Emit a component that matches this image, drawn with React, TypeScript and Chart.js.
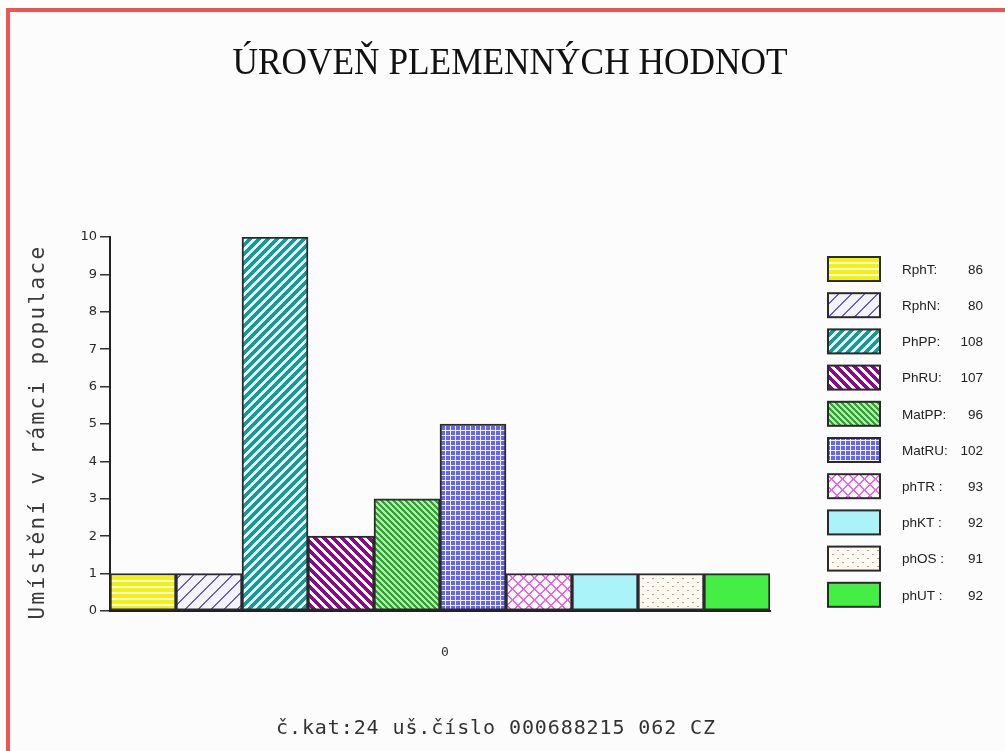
import React, { useEffect, useRef } from 'react';
import { Chart, registerables } from 'chart.js';

Chart.register(...registerables);

const categories = ['0'];
const seriesNames = ['RphT', 'RphN', 'PhPP', 'PhRU', 'MatPP', 'MatRU', 'phTR', 'phKT', 'phOS', 'phUT'];
const legendNames = ['RphT:', 'RphN:', 'PhPP:', 'PhRU:', 'MatPP:', 'MatRU:', 'phTR :', 'phKT :', 'phOS :', 'phUT :'];
const breedingValues = [86, 80, 108, 107, 96, 102, 93, 92, 91, 92];
const placements = [1, 1, 10, 2, 3, 5, 1, 1, 1, 1];
const yMin = 0;
const yMax = 10;
const yStep = 1;

const titleText = 'ÚROVEŇ PLEMENNÝCH HODNOT';
const yTitleText = 'Umístění v rámci populace';
const footerText = 'č.kat:24 uš.číslo 000688215 062 CZ';

function hex(c: string): [number, number, number] {
  const v = parseInt(c.slice(1), 16);
  return [(v >> 16) & 255, (v >> 8) & 255, v & 255];
}

// Build a pixel tile: test(x, y) -> true means foreground
function pixelTile(w: number, h: number, bg: string, fg: string, test: (x: number, y: number) => boolean) {
  const c = document.createElement('canvas');
  c.width = w;
  c.height = h;
  const g = c.getContext('2d')!;
  const img = g.createImageData(w, h);
  const b = hex(bg);
  const f = hex(fg);
  for (let y = 0; y < h; y++) {
    for (let x = 0; x < w; x++) {
      const col = test(x, y) ? f : b;
      const i = (y * w + x) * 4;
      img.data[i] = col[0];
      img.data[i + 1] = col[1];
      img.data[i + 2] = col[2];
      img.data[i + 3] = 255;
    }
  }
  g.putImageData(img, 0, 0);
  return c;
}

const mod = (a: number, p: number) => ((a % p) + p) % p;

function buildPatterns(ctx: CanvasRenderingContext2D): (CanvasPattern | string)[] {
  const tiles: (HTMLCanvasElement | string)[] = [
    pixelTile(6, 6, '#ffffff', '#f4f400', (_x, y) => y < 4),
    pixelTile(13, 13, '#f4f4ff', '#6a5fd8', (x, y) => mod(x + y, 13) < 2),
    pixelTile(9, 9, '#e2fafa', '#189a9a', (x, y) => mod(x + y, 9) < 5),
    pixelTile(9, 9, '#ffffff', '#8a0a8a', (x, y) => mod(x - y, 9) < 5),
    pixelTile(6, 6, '#b2ecb2', '#2aa82a', (x, y) => mod(x - y, 6) < 3),
    pixelTile(5, 5, '#6464f6', '#f4f4ff', (x, y) => x === 0 || y === 0),
    pixelTile(11, 11, '#ffffff', '#f45cf4', (x, y) => mod(x + y, 11) < 2 || mod(x - y, 11) < 2),
    '#a9f3f9',
    pixelTile(10, 8, '#fffaf3', '#d9995f', (x, y) => ((x === 2 || x === 3) && y === 2) || ((x === 7 || x === 8) && y === 6)),
    '#44ee44',
  ];
  return tiles.map((t) => (typeof t === 'string' ? t : (ctx.createPattern(t, 'repeat') as CanvasPattern)));
}

function spacedText(
  ctx: CanvasRenderingContext2D,
  text: string,
  x: number,
  y: number,
  targetW: number,
  font: string
) {
  ctx.font = font;
  const anyCtx = ctx as any;
  anyCtx.letterSpacing = '0px';
  const w = ctx.measureText(text).width;
  const n = Array.from(text).length;
  const sp = (targetW - w) / n;
  anyCtx.letterSpacing = sp.toFixed(2) + 'px';
  ctx.fillText(text, x, y);
  anyCtx.letterSpacing = '0px';
}

export default function App() {
  const ref = useRef<HTMLCanvasElement | null>(null);

  useEffect(() => {
    document.body.style.margin = '0';
    const canvas = ref.current!;
    const ctx = canvas.getContext('2d')!;
    const fills = buildPatterns(ctx);

    const decor = {
      id: 'decor',
      afterDraw(chart: any) {
        const c: CanvasRenderingContext2D = chart.ctx;
        c.save();
        // Title (condensed serif)
        c.fillStyle = '#111111';
        c.font = '36px "Liberation Serif"';
        const tw = c.measureText(titleText).width;
        c.save();
        c.translate(510, 74);
        c.scale(555 / tw, 1.05);
        c.textAlign = 'center';
        c.textBaseline = 'alphabetic';
        c.fillText(titleText, 0, 0);
        c.restore();

        // Y axis title
        c.save();
        c.translate(39, 432);
        c.rotate(-Math.PI / 2);
        c.fillStyle = '#3a3a3a';
        c.textAlign = 'center';
        c.textBaseline = 'middle';
        spacedText(c, yTitleText, 0, 0, 375, '21px "DejaVu Sans Mono"');
        c.restore();

        // Footer
        c.fillStyle = '#333333';
        c.textAlign = 'left';
        c.textBaseline = 'middle';
        spacedText(c, footerText, 276, 729, 440, '20px "DejaVu Sans Mono"');

        // Legend
        const boxX = 828;
        const boxW = 52;
        const boxH = 24;
        const top0 = 257;
        const step = 36.2;
        chart.data.datasets.forEach((ds: any, i: number) => {
          const y = top0 + i * step;
          c.fillStyle = ds.backgroundColor;
          c.fillRect(boxX, y, boxW, boxH);
          c.strokeStyle = '#2a2a2a';
          c.lineWidth = 2;
          c.strokeRect(boxX, y, boxW, boxH);
          c.fillStyle = '#222222';
          c.font = '13.5px "Liberation Sans"';
          c.textBaseline = 'middle';
          c.textAlign = 'left';
          c.fillText(legendNames[i], 902, y + boxH / 2 + 1);
          c.textAlign = 'right';
          c.fillText(String(breedingValues[i]), 983, y + boxH / 2 + 1);
        });
        c.restore();
      },
    };

    const chart = new Chart(canvas, {
      type: 'bar',
      data: {
        labels: categories,
        datasets: seriesNames.map((name, i) => ({
          label: name,
          data: [placements[i]],
          backgroundColor: fills[i] as any,
          borderColor: '#2a2a2a',
          borderWidth: 2,
          borderSkipped: false,
          categoryPercentage: 1,
          barPercentage: 1,
        })),
      },
      options: {
        animation: false,
        responsive: false,
        maintainAspectRatio: false,
        layout: { padding: { left: 50, top: 237, right: 235, bottom: 0 } },
        plugins: {
          legend: { display: false },
          title: { display: false },
          tooltip: { enabled: false },
        },
        scales: {
          x: {
            grid: { display: false, drawTicks: false },
            border: { display: true, color: '#222222', width: 2 },
            ticks: {
              padding: 34,
              labelOffset: 5,
              color: '#333333',
              font: { family: 'DejaVu Sans Mono', size: 13 },
            },
            afterFit: (s: any) => {
              s.height = 140;
            },
          },
          y: {
            min: yMin,
            max: yMax,
            ticks: {
              stepSize: yStep,
              padding: 3,
              color: '#2a2a2a',
              font: { family: 'DejaVu Sans', size: 13 },
            },
            grid: {
              drawOnChartArea: false,
              drawTicks: true,
              tickLength: 10,
              color: '#333333',
              lineWidth: 1.5,
            },
            border: { display: true, color: '#222222', width: 2 },
            afterFit: (s: any) => {
              s.width = 60;
            },
          },
        },
      },
      plugins: [decor],
    });

    return () => chart.destroy();
  }, []);

  return (
    <div style={{ position: 'fixed', left: 0, top: 0, width: 1005, height: 751, background: '#ffffff', overflow: 'hidden' }}>
      <div
        style={{
          position: 'absolute',
          left: 6,
          top: 8,
          right: 0,
          bottom: 0,
          background: '#fcfcfc',
          borderTop: '4px solid #f25252',
          borderLeft: '4px solid #f25252',
        }}
      />
      <canvas ref={ref} width={1005} height={751} style={{ position: 'absolute', left: 0, top: 0, display: 'block' }} />
    </div>
  );
}
